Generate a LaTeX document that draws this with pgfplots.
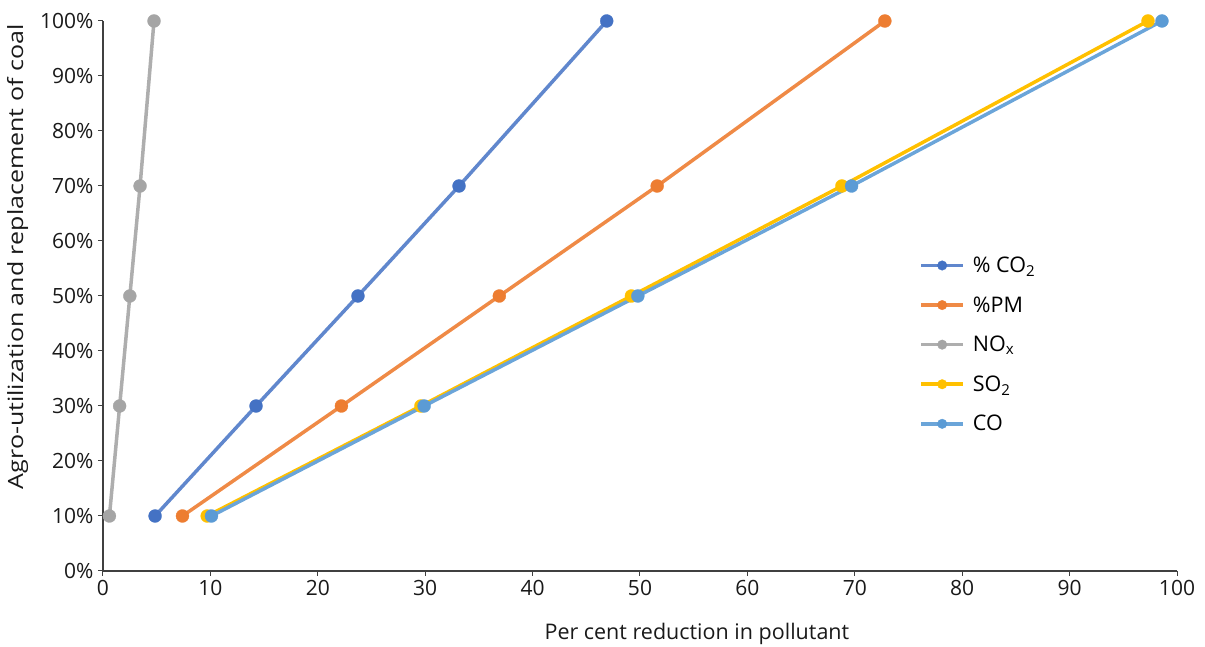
\documentclass[border=0pt]{standalone}
\usepackage{pgfplots}
\pgfplotsset{compat=1.18}
\usepackage{fontspec}
\setmainfont{Open Sans}
\definecolor{cCO2}{HTML}{4472C4}
\definecolor{cPM}{HTML}{ED7D31}
\definecolor{cNOx}{HTML}{A5A5A5}
\definecolor{cSO2}{HTML}{FFC000}
\definecolor{cCO}{HTML}{5B9BD5}
\definecolor{axgray}{HTML}{404040}
\begin{document}
\begin{tikzpicture}[x=1pt,y=1pt]
\useasboundingbox (-103,-76) rectangle (1102,571);
\begin{axis}[
  at={(0,0)}, anchor=south west,
  scale only axis, width=1074pt, height=550pt,
  xmin=0, xmax=100, ymin=0, ymax=100,
  axis lines=left,
  axis line style={-, axgray, line width=1.2pt},
  tick style={axgray, line width=1pt},
  tick align=outside, major tick length=5pt,
  xtick={0,10,...,100},
  ytick={0,10,...,100},
  yticklabels={0\%,10\%,20\%,30\%,40\%,50\%,60\%,70\%,80\%,90\%,100\%},
  /pgf/number format/assume math mode=true,
  ticklabel style={font=\fontsize{21}{24}\selectfont, text=black!90},
  xticklabel style={yshift=-1pt},
  yticklabel style={xshift=-1pt},
  xlabel={Per cent reduction in pollutant},
  ylabel={Agro-utilization and replacement of coal},
  label style={font=\fontsize{21.5}{24}\selectfont, text=black!90},
  xlabel style={at={(axis description cs:0.553,-0.115)}, anchor=center},
  ylabel style={at={(axis description cs:-0.0795,0.571)}, anchor=center, font=\fontsize{21}{24}\selectfont, xscale=1.19},
  legend style={draw=none, fill=none, at={(axis description cs:0.760,0.575)}, anchor=north west,
    font=\fontsize{21.5}{24}\selectfont, row sep=18.5pt, inner sep=0pt,
    nodes={inner xsep=8pt}},
  legend cell align=left,
  legend image code/.code={\draw[mark repeat=2,mark phase=2, mark size=4.8pt] plot coordinates {(0pt,0pt)(21pt,0pt)(42pt,0pt)};},
  every axis plot/.append style={line width=3.5pt, mark=*, mark size=6.5pt},
]
\addplot[color=cCO2!85!white, mark options={fill=cCO2, draw=cCO2, line width=0.3pt}] coordinates {(4.85,10)(14.25,30)(23.74,50)(33.15,70)(46.9,100)};
\addlegendentry{\% CO\textsubscript{2}}
\addplot[color=cPM!90!white, mark options={fill=cPM, draw=cPM, line width=0.3pt}] coordinates {(7.4,10)(22.2,30)(36.9,50)(51.6,70)(72.8,100)};
\addlegendentry{\%PM}
\addplot[color=cNOx!90!white, mark options={fill=cNOx, draw=cNOx, line width=0.3pt}] coordinates {(0.6,10)(1.55,30)(2.5,50)(3.45,70)(4.75,100)};
\addlegendentry{NO\textsubscript{x}}
\addplot[color=cSO2, mark options={fill=cSO2, draw=cSO2, line width=0.3pt}] coordinates {(9.7,10)(29.6,30)(49.2,50)(68.8,70)(97.3,100)};
\addlegendentry{SO\textsubscript{2}}
\addplot[color=cCO!90!white, mark options={fill=cCO, draw=cCO, line width=0.3pt}] coordinates {(10.1,10)(29.9,30)(49.8,50)(69.7,70)(98.6,100)};
\addlegendentry{CO}
\end{axis}
\end{tikzpicture}
\end{document}
